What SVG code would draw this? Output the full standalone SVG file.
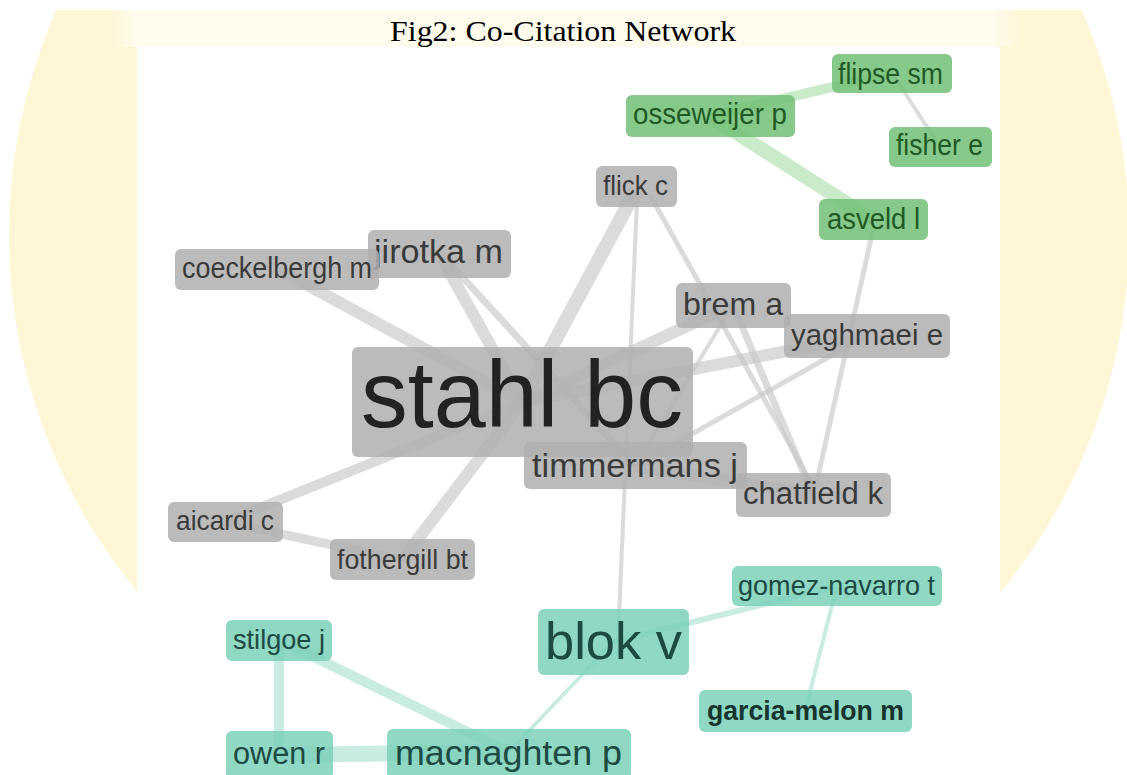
<svg xmlns="http://www.w3.org/2000/svg" width="1127" height="775" viewBox="0 0 1127 775">
<defs>
<clipPath id="wmclip"><rect x="0" y="10" width="1127" height="765"/></clipPath>
<linearGradient id="strip" x1="0" y1="0" x2="1" y2="0">
<stop offset="0" stop-color="#fff6d6"/>
<stop offset="0.03" stop-color="#fffcee"/>
<stop offset="0.97" stop-color="#fffcee"/>
<stop offset="1" stop-color="#fff6d6"/>
</linearGradient>
<style>
.e{fill:none;stroke-linecap:butt}
.eg{stroke:#c8c8c8;stroke-opacity:0.65}
.eG{stroke:#b4e2b4;stroke-opacity:0.7}
.eT{stroke:#b2e4d6;stroke-opacity:0.7}
.n rect{rx:6;ry:6}
.g rect{fill:#afafaf;fill-opacity:0.85}
.gr rect{fill:#71bf75;fill-opacity:0.85}
.t rect{fill:#7bd1ba;fill-opacity:0.85}
.n text{font-family:"Liberation Sans",Arial,sans-serif}
.g text{fill:#3a3a3a}
.gr text{fill:#1f5a24}
.t text{fill:#1d4a42}
</style>
</defs>
<rect width="1127" height="775" fill="#ffffff"/>
<g clip-path="url(#wmclip)">
<circle cx="569" cy="235" r="560" fill="#fff6d6"/>
<rect x="110" y="10" width="910" height="37" fill="url(#strip)"/>
</g>
<rect x="137" y="47" width="863" height="728" fill="#ffffff"/>
<text x="563" y="41" text-anchor="middle" font-family="Liberation Serif,'Times New Roman',serif" font-size="30" textLength="346" lengthAdjust="spacingAndGlyphs" fill="#000">Fig2: Co-Citation Network</text>

<g id="connectors">
<line class="e eg" x1="280" y1="270" x2="522" y2="402" stroke-width="12"/>
<line class="e eg" x1="440" y1="255" x2="522" y2="402" stroke-width="12"/>
<line class="e eg" x1="445" y1="258" x2="635" y2="466" stroke-width="7"/>
<line class="e eg" x1="636" y1="190" x2="522" y2="402" stroke-width="14"/>
<line class="e eg" x1="637" y1="200" x2="618" y2="640" stroke-width="4"/>
<line class="e eg" x1="650" y1="195" x2="815" y2="490" stroke-width="5"/>
<line class="e eg" x1="733" y1="305" x2="522" y2="402" stroke-width="12"/>
<line class="e eg" x1="733" y1="305" x2="813" y2="495" stroke-width="7"/>
<line class="e eg" x1="733" y1="305" x2="635" y2="466" stroke-width="4"/>
<line class="e eg" x1="866" y1="336" x2="522" y2="402" stroke-width="12"/>
<line class="e eg" x1="866" y1="336" x2="635" y2="466" stroke-width="5"/>
<line class="e eg" x1="873" y1="230" x2="815" y2="490" stroke-width="5"/>
<line class="e eg" x1="635" y1="466" x2="813" y2="495" stroke-width="12"/>
<line class="e eg" x1="522" y1="402" x2="225" y2="522" stroke-width="10"/>
<line class="e eg" x1="522" y1="402" x2="402" y2="560" stroke-width="12"/>
<line class="e eg" x1="225" y1="522" x2="402" y2="560" stroke-width="9"/>
<line class="e eG" x1="710" y1="116" x2="892" y2="73" stroke-width="10"/>
<line class="e eG" x1="710" y1="116" x2="873" y2="220" stroke-width="14"/>
<line class="e eg" x1="892" y1="73" x2="940" y2="147" stroke-width="4"/>
<line class="e eT" x1="613" y1="642" x2="837" y2="586" stroke-width="6"/>
<line class="e eT" x1="837" y1="586" x2="805" y2="711" stroke-width="4"/>
<line class="e eT" x1="613" y1="642" x2="509" y2="752" stroke-width="4"/>
<line class="e eT" x1="279" y1="640" x2="509" y2="752" stroke-width="10"/>
<line class="e eT" x1="279" y1="640" x2="279" y2="755" stroke-width="10"/>
<line class="e eT" x1="279" y1="755" x2="509" y2="752" stroke-width="16"/>
</g>

<g id="n-jirotka" class="n g"><rect x="368" y="230" width="143" height="48"/><text x="374" y="263" font-size="34" textLength="129" lengthAdjust="spacingAndGlyphs">jirotka m</text></g>
<g id="n-coeckelbergh" class="n g"><rect x="175" y="249" width="204" height="41"/><text x="182" y="278" font-size="29" textLength="190" lengthAdjust="spacingAndGlyphs">coeckelbergh m</text></g>
<g id="n-flick" class="n g"><rect x="596" y="166" width="81" height="41"/><text x="603" y="195" font-size="28" textLength="65" lengthAdjust="spacingAndGlyphs">flick c</text></g>
<g id="n-brem" class="n g"><rect x="676" y="283" width="115" height="45"/><text x="683" y="315" font-size="32" textLength="100" lengthAdjust="spacingAndGlyphs">brem a</text></g>
<g id="n-yaghmaei" class="n g"><rect x="784" y="314" width="166" height="44"/><text x="791" y="345" font-size="29" textLength="152" lengthAdjust="spacingAndGlyphs">yaghmaei e</text></g>
<g id="n-stahl" class="n g"><rect x="352" y="347" width="341" height="110"/><text x="361" y="427" font-size="94" textLength="322" lengthAdjust="spacingAndGlyphs" style="fill:#222">stahl bc</text></g>
<g id="n-timmermans" class="n g"><rect x="524" y="442" width="223" height="47"/><text x="532" y="477" font-size="33" textLength="206" lengthAdjust="spacingAndGlyphs">timmermans j</text></g>
<g id="n-chatfield" class="n g"><rect x="736" y="473" width="155" height="44"/><text x="743" y="504" font-size="31" textLength="140" lengthAdjust="spacingAndGlyphs">chatfield k</text></g>
<g id="n-aicardi" class="n g"><rect x="168" y="502" width="115" height="40"/><text x="176" y="530" font-size="28" textLength="98" lengthAdjust="spacingAndGlyphs">aicardi c</text></g>
<g id="n-fothergill" class="n g"><rect x="330" y="539" width="145" height="41"/><text x="337" y="569" font-size="28" textLength="131" lengthAdjust="spacingAndGlyphs">fothergill bt</text></g>

<g id="n-flipse" class="n gr"><rect x="832" y="54" width="120" height="39"/><text x="838" y="84" font-size="29" textLength="105" lengthAdjust="spacingAndGlyphs">flipse sm</text></g>
<g id="n-osseweijer" class="n gr"><rect x="626" y="95" width="169" height="42"/><text x="633" y="124" font-size="29" textLength="154" lengthAdjust="spacingAndGlyphs">osseweijer p</text></g>
<g id="n-fisher" class="n gr"><rect x="889" y="127" width="103" height="40"/><text x="896" y="155" font-size="29" textLength="87" lengthAdjust="spacingAndGlyphs">fisher e</text></g>
<g id="n-asveld" class="n gr"><rect x="819" y="199" width="109" height="41"/><text x="827" y="229" font-size="29" textLength="93" lengthAdjust="spacingAndGlyphs">asveld l</text></g>

<g id="n-blok" class="n t"><rect x="538" y="609" width="151" height="66"/><text x="545" y="659" font-size="52" textLength="137" lengthAdjust="spacingAndGlyphs">blok v</text></g>
<g id="n-gomez" class="n t"><rect x="732" y="566" width="210" height="40"/><text x="738" y="595" font-size="28" textLength="197" lengthAdjust="spacingAndGlyphs">gomez-navarro t</text></g>
<g id="n-garcia" class="n t"><rect x="699" y="690" width="213" height="42"/><text x="707" y="720" font-size="28" font-weight="bold" textLength="197" lengthAdjust="spacingAndGlyphs" style="fill:#17352f">garcia-melon m</text></g>
<g id="n-stilgoe" class="n t"><rect x="226" y="620" width="106" height="41"/><text x="233" y="649" font-size="28" textLength="92" lengthAdjust="spacingAndGlyphs">stilgoe j</text></g>
<g id="n-owen" class="n t"><rect x="226" y="731" width="107" height="48"/><text x="233" y="764" font-size="31" textLength="92" lengthAdjust="spacingAndGlyphs">owen r</text></g>
<g id="n-macnaghten" class="n t"><rect x="387" y="729" width="244" height="50"/><text x="395" y="765" font-size="35" textLength="227" lengthAdjust="spacingAndGlyphs">macnaghten p</text></g>
</svg>
